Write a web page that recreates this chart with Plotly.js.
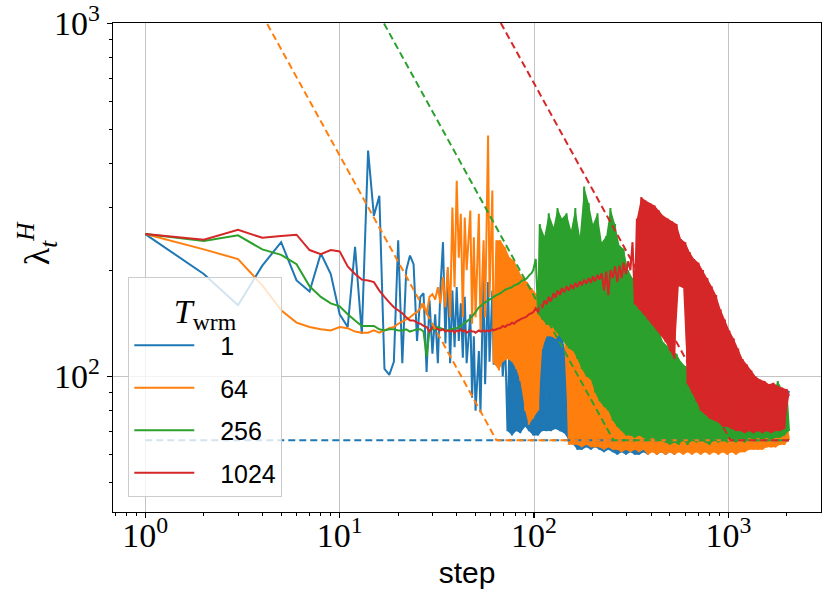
<!DOCTYPE html>
<html>
<head>
<meta charset="utf-8">
<script src="https://cdn.plot.ly/plotly-3.0.1.min.js"></script>
<style>
  html, body { margin: 0; padding: 0; background: #ffffff; }
  #chart { width: 831px; height: 604px; }
</style>
</head>
<body>
<div id="chart"></div>
<script>
// ---------------- data ----------------
const LEGEND_LABELS = ['1', '64', '256', '1024'];
const COLORS = ['#1f77b4', '#ff7f0e', '#2ca02c', '#d62728'];

// steps 1..40 (each step shown)
const STEPS_EARLY = [1,2,3,4,5,6,7,8,9,10,11,12,13,14,15,16,17,18,19,20,
  21,22,23,24,25,26,27,28,29,30,31,32,33,34,35,36,37,38,39,40];

// later steps (sampled positions; values alternate trough / peak)
const STEPS_LATE = [
  41,42,43,44,45,47,48,49,50,52,
  53,55,56,58,59,61,62,64,66,67,
  69,71,73,75,77,79,81,83,85,87,
  90,92,94,97,99,102,105,107,110,113,
  116,119,122,126,129,132,136,139,143,147,
  151,155,159,163,167,172,176,181,186,191,
  196,201,206,212,217,223,229,235,241,247,
  254,261,268,275,282,289,297,305,313,321,
  330,338,347,356,366,375,385,396,406,417,
  428,439,451,462,475,487,500,513,527,541,
  555,570,585,600,616,632,649,666,684,702,
  720,739,759,779,799,820,842,864,887,911,
  935,959,985,1011,1037,1065,1093,1122,1151,1182,
  1213,1245,1278,1312,1346,1382,1418,1456,1494,1534,
  1574,1616,1658,1702,1747,1793,1840,1889,1939,1990,
  2048];

// T_wrm = 1
const BLUE_EARLY = [253,195,159,206,240,187,174,223,195,150,
  138,233,132,436,285,325,105,101,110,243,
  109,200,220,208,126,168,172,103,164,116,
  150,109,179,240,124,200,109,175,121,179];
const BLUE_LATE = [
  126,161,113,168,109,150,87,130,80,118,
  79,200,95,185,110,175,108,160,112,150,
  100,125,70,140,68,135,70,130,69,140,
  72,130,70,125,68,128,68,130,70,135,
  70,138,70,140,71,135,70,130,69,115,
  66,105,64,100,62,100,62,95,63,100,
  62,105,63,100,62,95,61,100,62,95,
  61,90,60,92,61,90,60,88,61,90,
  60,85,60,88,61,85,60,86,62,84,
  60,85,61,82,60,84,61,82,60,80,
  62,82,61,80,63,82,62,80,63,82,
  64,80,64,82,65,80,64,82,65,80,
  65,82,66,80,66,82,65,84,66,80,
  65,82,66,80,65,84,66,82,65,85,
  66,84,65,86,66,82,65,88,66,86,
  91];

// T_wrm = 64
const ORANGE_EARLY = [253,229,215,181,154,142,138,136,135,138,
  137,134,133,133,135,133,135,137,138,141,
  143,145,147,150,152,156,161,150,168,171,
  165,179,161,191,157,204,147,301,179,358];
const ORANGE_LATE = [
  217,289,147,282,200,295,141,248,147,289,
  135,243,147,481,168,336,109,243,104,243,
  110,232,112,217,110,213,105,200,97,191,
  80,185,73,178,76,172,80,170,120,168,
  130,165,130,160,128,158,132,155,125,150,
  64,136,64,140,64,138,63,132,64,125,
  63,122,63,125,63,115,62,108,63,95,
  62,88,62,80,61,78,62,76,61,75,
  62,82,61,78,62,80,60,76,61,97,
  60,80,61,75,60,74,61,73,60,75,
  61,72,60,74,61,91,60,75,61,93,
  60,74,61,74,60,73,61,72,60,73,
  61,72,60,72,61,71,60,72,61,71,
  61,72,62,71,62,72,62,71,62,72,
  63,71,63,72,63,72,64,72,64,73,
  66];

// T_wrm = 256
const GREEN_EARLY = [253,242,251,229,221,208,180,168,161,158,
  150,144,139,139,139,136,135,136,136,135,
  135,136,134,135,136,136,134,114,135,136,
  136,138,137,136,135,135,136,136,137,137];
const GREEN_LATE = [
  138,139,140,142,143,146,148,150,152,157,
  158,161,162,164,165,167,168,170,171,172,
  174,176,177,178,179,181,182,183,185,187,
  188,190,193,196,200,215,150,270,145,250,
  140,290,140,265,135,300,130,280,125,290,
  120,260,118,300,112,250,105,345,100,310,
  98,270,90,290,85,240,82,250,80,300,
  75,270,72,235,70,230,68,200,68,190,
  67,175,68,160,67,150,66,145,67,140,
  66,135,66,125,65,122,64,118,65,116,
  64,110,66,107,64,104,66,102,65,100,
  66,96,65,92,64,90,66,88,65,86,
  66,85,65,82,66,80,65,78,66,80,
  65,79,67,80,66,84,67,88,66,92,
  67,95,66,90,67,97,67,92,68,90,
  70];

// T_wrm = 1024
const RED_EARLY = [253,244,260,247,250,252,228,222,228,226,
  205,195,188,187,185,175,168,162,157,154,
  151,147,144,144,142,141,139,138,134,138,
  137,136,135,136,134,135,134,135,133,135];
const RED_LATE = [
  134,136,134,135,133,135,134,134,133,135,
  134,135,134,135,134,136,135,136,137,137,
  139,138,140,140,142,141,143,144,145,146,
  147,148,150,151,152,156,152,160,156,164,
  160,168,163,172,167,175,170,178,173,180,
  175,182,177,184,179,186,181,188,183,190,
  184,192,186,194,188,196,175,198,170,200,
  190,205,185,206,190,210,195,212,200,240,
  160,280,155,322,150,315,145,310,140,305,
  135,295,130,285,125,280,118,275,112,270,
  180,245,178,240,95,225,90,215,85,210,
  80,200,78,190,76,180,75,170,74,155,
  72,145,72,135,71,128,70,120,70,112,
  69,108,70,104,69,100,70,98,69,97,
  70,95,69,96,70,94,70,93,71,92,
  88];

// index in the *_LATE arrays from which each series oscillates too fast to resolve
const DENSE_FROM = [22, 16, 36, 80];

// dashed reference curves (corner points)
const DASH_STEPS = [[1, 2048], [1, 64, 2048], [1, 256, 2048], [1, 1024, 2048]];
const DASH_VALUES = [[66, 66], [4224, 66, 66], [16896, 66, 66], [67584, 66, 66]];

// axis ticks / texts
const X_TICKS = [1, 10, 100, 1000];
const X_TICK_TEXT = ['10<sup>0</sup>', '10<sup>1</sup>', '10<sup>2</sup>', '10<sup>3</sup>'];
const X_MINOR = [0.7,0.8,0.9,2,3,4,5,6,7,8,9,20,30,40,50,60,70,80,90,200,300,400,500,600,700,800,900,2000,3000];
const Y_TICKS = [100, 1000];
const Y_TICK_TEXT = ['10<sup>2</sup>', '10<sup>3</sup>'];
const Y_MINOR = [50,60,70,80,90,200,300,400,500,600,700,800,900];
const Y_TITLE = 'λ<sub><i>t</i></sub><sup><i>H</i></sup>';
const X_TITLE = 'step';
const LEGEND_TITLE = '<i>T</i><sub>wrm</sub>';

// ---------------- build traces ----------------
const steps = STEPS_EARLY.concat(STEPS_LATE);
const LATE = [BLUE_LATE, ORANGE_LATE, GREEN_LATE, RED_LATE];
const EARLY = [BLUE_EARLY, ORANGE_EARLY, GREEN_EARLY, RED_EARLY];

const NBSP = '\u00a0\u00a0\u00a0';
const traces = [];
for (let i = 0; i < 4; i++) {
  // band between troughs (even index) and peaks (odd index) of the fast oscillation
  const up = [], upx = [], lo = [], lox = [];
  for (let k = DENSE_FROM[i]; k < STEPS_LATE.length; k++) {
    if (k % 2 === 1) { up.push(LATE[i][k]); upx.push(STEPS_LATE[k]); }
    else { lo.push(LATE[i][k]); lox.push(STEPS_LATE[k]); }
  }
  traces.push({
    type: 'scatter', mode: 'lines',
    x: upx.concat(lox.slice().reverse()),
    y: up.concat(lo.slice().reverse()),
    fill: 'toself', fillcolor: COLORS[i],
    line: { width: 0, color: COLORS[i] },
    showlegend: false, hoverinfo: 'skip'
  });
  traces.push({
    type: 'scatter', mode: 'lines',
    x: steps, y: EARLY[i].concat(LATE[i]),
    name: NBSP + LEGEND_LABELS[i],
    legendgroup: 'g' + i,
    line: { color: COLORS[i], width: 2, simplify: false },
    hoverinfo: 'skip'
  });
}
DASH_STEPS.forEach((xs, i) => {
  traces.push({
    type: 'scatter', mode: 'lines',
    x: xs, y: DASH_VALUES[i],
    showlegend: false,
    line: { color: COLORS[i], width: 2, dash: '7px,4px' },
    hoverinfo: 'skip'
  });
});

const axisCommon = {
  type: 'log',
  showline: true, linecolor: 'black', linewidth: 1.3, mirror: true,
  ticks: 'outside', ticklen: 5, tickwidth: 1.2, tickcolor: 'black',
  showgrid: true, gridcolor: '#c4c4c4', gridwidth: 1,
  zeroline: false,
  ticklabeloverflow: 'allow',
  tickfont: { family: 'Liberation Serif', size: 34, color: 'black' },
  tickmode: 'array'
};

const layout = {
  width: 831, height: 604,
  margin: { l: 113, r: 10, t: 23, b: 92 },
  paper_bgcolor: 'white', plot_bgcolor: 'white',
  font: { family: 'Liberation Serif', color: 'black' },
  showlegend: true,
  xaxis: Object.assign({}, axisCommon, {
    range: [-0.166, 3.476],
    tickvals: X_TICKS, ticktext: X_TICK_TEXT,
    ticklabelstandoff: -12,
    minor: { tickmode: 'array', tickvals: X_MINOR, ticks: 'outside', ticklen: 3, tickwidth: 1, tickcolor: 'black', showgrid: false },
    title: { text: X_TITLE, font: { family: 'Liberation Sans', size: 30, color: 'black' }, standoff: 9 }
  }),
  yaxis: Object.assign({}, axisCommon, {
    range: [1.616, 3.001],
    tickvals: Y_TICKS, ticktext: Y_TICK_TEXT,
    minor: { tickmode: 'array', tickvals: Y_MINOR, ticks: 'outside', ticklen: 3, tickwidth: 1, tickcolor: 'black', showgrid: false }
  }),
  annotations: [{
    xref: 'paper', yref: 'paper', x: -0.107, y: 0.55,
    xanchor: 'center', yanchor: 'middle', textangle: -90, showarrow: false,
    text: Y_TITLE, font: { family: 'Liberation Serif', size: 36, color: 'black' }
  }],
  legend: {
    x: 0.0216, y: 0.03, xanchor: 'left', yanchor: 'bottom',
    bgcolor: 'rgba(255,255,255,0.8)', bordercolor: '#cccccc', borderwidth: 1,
    font: { family: 'Liberation Sans', size: 25, color: 'black' },
    title: { text: LEGEND_TITLE, font: { family: 'Liberation Serif', size: 34, color: 'black' }, side: 'top center' },
    itemwidth: 60,
    tracegroupgap: 7
  }
};

Plotly.newPlot('chart', traces, layout, { staticPlot: true, displayModeBar: false });
</script>
</body>
</html>
